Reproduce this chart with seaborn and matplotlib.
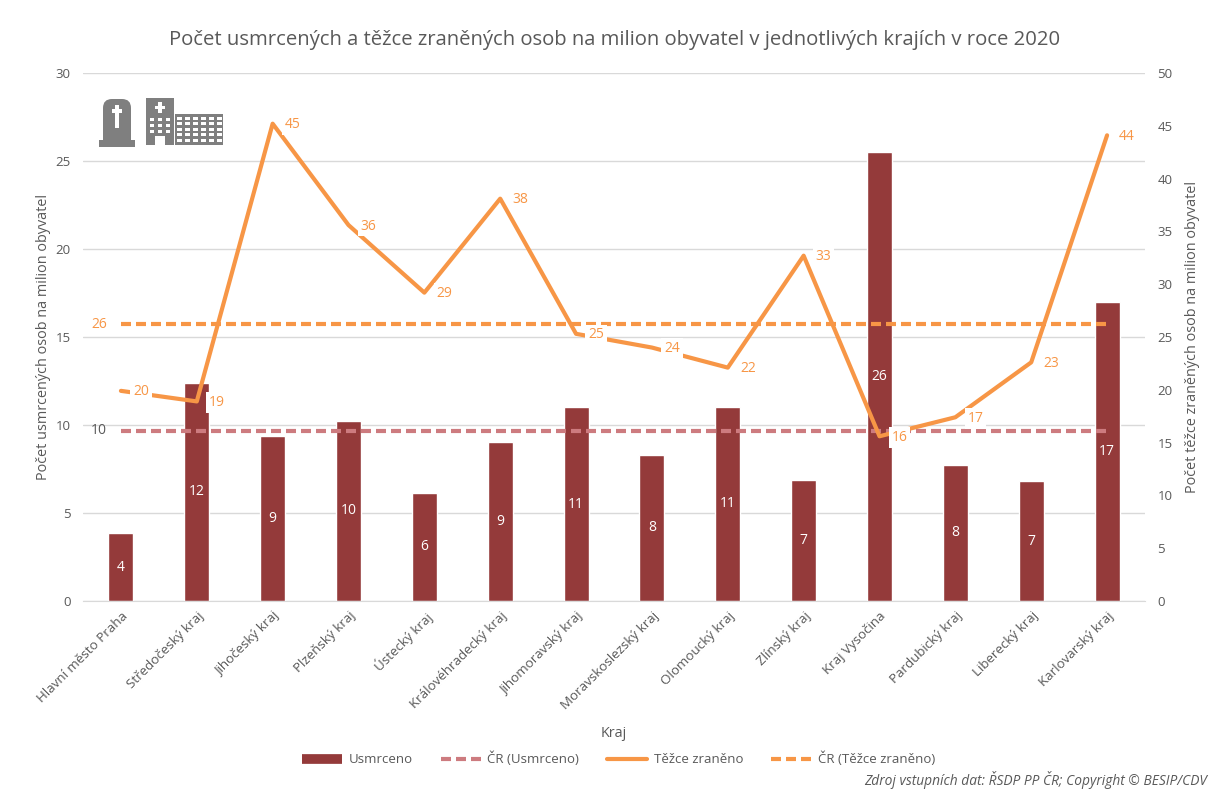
import matplotlib
matplotlib.use("Agg")
import matplotlib.pyplot as plt
from matplotlib.lines import Line2D
from matplotlib.patches import Rectangle, FancyBboxPatch
import pandas as pd
import seaborn as sns

# data
kraje = ["Hlavní město Praha", "Středočeský kraj", "Jihočeský kraj", "Plzeňský kraj",
         "Ústecký kraj", "Královéhradecký kraj", "Jihomoravský kraj", "Moravskoslezský kraj",
         "Olomoucký kraj", "Zlínský kraj", "Kraj Vysočina", "Pardubický kraj",
         "Liberecký kraj", "Karlovarský kraj"]
usmrceno = [3.85, 12.4, 9.35, 10.25, 6.15, 9.05, 11.0, 8.3, 11.05, 6.9, 25.5, 7.75, 6.8, 17.0]
tezce = [19.9, 18.9, 45.2, 35.6, 29.2, 38.1, 25.3, 24.0, 22.1, 32.7, 15.6, 17.4, 22.6, 44.1]
cr_usmrceno = [9.66] * 14
cr_tezce = [26.2] * 14

GRAY = "#595959"
BAR = "#943A3A"
ORANGE = "#F79646"
PINK = "#CD7B7F"
FS = 10

sns.set_style("white")
plt.rcParams["font.family"] = ["Open Sans", "DejaVu Sans"]

df = pd.DataFrame({"kraj": kraje, "usmrceno": usmrceno, "tezce": tezce,
                   "cr_u": cr_usmrceno, "cr_t": cr_tezce})

W, H = 1209, 792
fig = plt.figure(figsize=(W / 100, H / 100), dpi=100)
ax = fig.add_axes([83 / W, 1 - 601 / H, (1145 - 83) / W, (601 - 73) / H])

# bars + left axis
sns.barplot(data=df, x="kraj", y="usmrceno", color=BAR, saturation=1, width=0.33, ax=ax, zorder=2)
sns.lineplot(data=df, x="kraj", y="cr_u", color=PINK, lw=3, ax=ax, zorder=3, dashes=(2.4, 1.2))
ax.set_xlim(-0.5, 13.5)
ax.set_ylim(0, 30)
ax.set_yticks(range(0, 31, 5))
ax.grid(axis="y", color="#D9D9D9", lw=1, zorder=0)
ax.set_axisbelow(True)
ax.tick_params(axis="y", length=0, labelsize=9.5, labelcolor=GRAY, pad=9)
ax.tick_params(axis="x", length=0, labelsize=9.6, labelcolor=GRAY, pad=6)
plt.setp(ax.get_xticklabels(), rotation=45, ha="right", rotation_mode="anchor")
ax.set_ylabel("Počet usmrcených osob na milion obyvatel", fontsize=10.4, color=GRAY, labelpad=3)
ax.set_xlabel("Kraj", fontsize=10.4, color=GRAY, labelpad=10)
sns.despine(ax=ax, left=True, right=True, top=True)
ax.spines["bottom"].set_color("#D9D9D9")

ax.bar_label(ax.containers[0], labels=[f"{v:.0f}" for v in usmrceno], label_type="center",
             color="white", fontsize=FS)
ax.annotate(f"{cr_usmrceno[0]:.0f}", (0, cr_usmrceno[0]), xytext=(-22, 0), textcoords="offset pixels",
            color=GRAY, fontsize=FS, ha="center", va="center")

# right axis
ax2 = ax.twinx()
sns.lineplot(data=df, x="kraj", y="cr_t", color=ORANGE, lw=3, ax=ax2, zorder=2, dashes=(2.4, 1.2))
sns.lineplot(data=df, x="kraj", y="tezce", color=ORANGE, lw=3, ax=ax2, zorder=3)
ax2.set_ylim(0, 50)
ax2.set_yticks(range(0, 51, 5))
ax2.grid(False)
ax2.tick_params(axis="y", length=0, labelsize=9.5, labelcolor=GRAY, pad=9)
ax2.set_ylabel("Počet těžce zraněných osob na milion obyvatel", fontsize=10.4, color=GRAY, labelpad=8.5)
sns.despine(ax=ax2, left=True, right=True, top=True, bottom=True)

for i, v in enumerate(tezce):
    ax2.annotate(f"{v:.0f}", (i, v), xytext=(20, -1), textcoords="offset pixels", color=ORANGE,
                 fontsize=FS, ha="center", va="center", zorder=5,
                 bbox=dict(facecolor="white", edgecolor="none", pad=2))
ax2.annotate(f"{cr_tezce[0]:.0f}", (0, cr_tezce[0]), xytext=(-22, 0), textcoords="offset pixels",
             color=ORANGE, fontsize=FS, ha="center", va="center")

fig.text(615 / W, 1 - 40 / H, "Počet usmrcených a těžce zraněných osob na milion obyvatel v jednotlivých krajích v roce 2020",
         fontsize=14.6, color=GRAY, ha="center", va="center")

handles = [Line2D([], [], color=BAR, lw=7, solid_capstyle="butt"),
           Line2D([], [], color=PINK, lw=3, dashes=(2.4, 1.2)),
           Line2D([], [], color=ORANGE, lw=3),
           Line2D([], [], color=ORANGE, lw=3, dashes=(2.4, 1.2))]
fig.legend(handles, ["Usmrceno", "ČR (Usmrceno)", "Těžce zraněno", "ČR (Těžce zraněno)"],
           loc="center", bbox_to_anchor=(618.5 / W, 1 - 759 / H), ncol=4, frameon=False,
           fontsize=9.5, labelcolor=GRAY, handlelength=3.05, handletextpad=0.5, columnspacing=2.1)

fig.text(1207 / W, 1 - 780 / H, "Zdroj vstupních dat: ŘSDP PP ČR; Copyright © BESIP/CDV",
         fontsize=9.9, style="italic", color=GRAY, ha="right", va="center")

# icons, in pixel coords of the picture
ic = fig.add_axes([0, 0, 1, 1], zorder=10)
ic.set_xlim(0, W)
ic.set_ylim(H, 0)
ic.axis("off")
ICON = "#7F7F7F"
ic.add_patch(Rectangle((99, 140), 36, 7, color=ICON, lw=0))
ic.add_patch(FancyBboxPatch((103, 99), 28, 45, boxstyle="round,pad=0,rounding_size=9", color=ICON, lw=0))
ic.add_patch(Rectangle((103, 125), 28, 16, color=ICON, lw=0))
ic.add_patch(Rectangle((115, 105), 4, 23, color="white", lw=0))
ic.add_patch(Rectangle((112, 109), 10, 3.5, color="white", lw=0))
ic.add_patch(Rectangle((146, 98), 28, 47, color=ICON, lw=0))
ic.add_patch(Rectangle((175, 114), 48, 31, color=ICON, lw=0))
ic.add_patch(Rectangle((158, 102), 4, 11, color="white", lw=0))
ic.add_patch(Rectangle((155, 105.5), 10, 3.5, color="white", lw=0))
ic.add_patch(Rectangle((155, 136), 10, 9, color="white", lw=0))
for r in range(3):
    for c in range(3):
        ic.add_patch(Rectangle((150 + c * 8, 118 + r * 6), 4, 3, color="white", lw=0))
for r in range(5):
    for c in range(6):
        ic.add_patch(Rectangle((177 + c * 8, 116.5 + r * 5.6), 5, 3, color="white", lw=0))

fig.savefig("out.png", dpi=100, facecolor="white")
